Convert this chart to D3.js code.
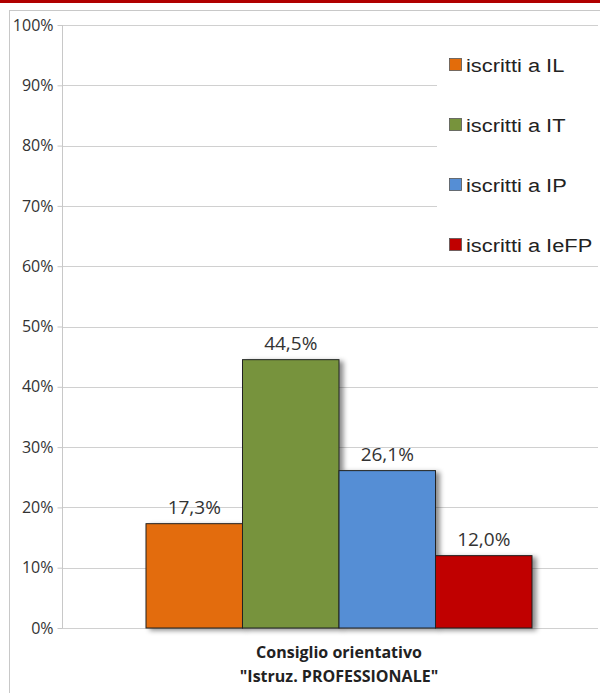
<!DOCTYPE html>
<html><head><meta charset="utf-8">
<script src="https://cdn.jsdelivr.net/npm/d3@7"></script>
<style>body{margin:0;background:#fff;}svg{display:block;}</style>
</head><body>
<script>
const categories = ["Consiglio orientativo", "\"Istruz. PROFESSIONALE\""];
const seriesNames = ["iscritti a IL", "iscritti a IT", "iscritti a IP", "iscritti a IeFP"];
const seriesValues = [17.3, 44.5, 26.1, 12.0];
const seriesLabels = ["17,3%", "44,5%", "26,1%", "12,0%"];
const seriesColors = ["#E36C0A", "#77933C", "#558ED5", "#C00000"];
const yTicks = [0,10,20,30,40,50,60,70,80,90,100];

(function(){
const W = 600, H = 693;
const svg = d3.select("body").append("svg").attr("width", W).attr("height", H);

const defs = svg.append("defs");
const f = defs.append("filter").attr("id","sh").attr("x","-20%").attr("y","-20%").attr("width","150%").attr("height","150%");
f.append("feDropShadow").attr("dx",4).attr("dy",2).attr("stdDeviation",2.5).attr("flood-color","#000").attr("flood-opacity",0.45);

// top red bar
svg.append("rect").attr("x",0).attr("y",0).attr("width",W).attr("height",3).attr("fill","#B00000");
// outer border
svg.append("rect").attr("x",9.5).attr("y",10.5).attr("width",W+10).attr("height",H+10)
  .attr("fill","none").attr("stroke","#c8c8c8").attr("stroke-width",1);

const pL = 62, pR = 598, pT = 25, pB = 628;
const y = d3.scaleLinear().domain([0,100]).range([pB, pT]);
const x = d3.scaleBand().domain(seriesNames).range([146, 532]).paddingInner(0);

// gridlines
svg.append("g").selectAll("line").data(yTicks).join("line")
  .attr("x1", pL).attr("x2", pR)
  .attr("y1", d=>Math.round(y(d))+0.5).attr("y2", d=>Math.round(y(d))+0.5)
  .attr("stroke","#d0d0d0").attr("stroke-width",1);

// y axis
const yAxis = d3.axisLeft(y).tickValues(yTicks).tickFormat(d=>d+"%").tickSize(5).tickPadding(4);
const ga = svg.append("g").attr("transform",`translate(${pL+0.5},0)`).call(yAxis);
ga.select(".domain").attr("stroke","#c8c8c8").attr("d",`M0,${pT}V${pB}`);
ga.selectAll(".tick line").attr("stroke","#c8c8c8").attr("x1",-5).attr("x2",0);
ga.selectAll(".tick text").attr("font-family","'Open Sans', sans-serif").attr("font-size",16).attr("fill","#333");

// bars
svg.append("g").selectAll("rect").data(seriesValues).join("rect")
  .attr("x",(d,i)=>x(seriesNames[i])).attr("width",x.bandwidth())
  .attr("y",d=>y(d)).attr("height",d=>pB-y(d))
  .attr("fill",(d,i)=>seriesColors[i]).attr("stroke","#222").attr("stroke-width",1)
  .attr("filter","url(#sh)");

// value labels
svg.append("g").selectAll("text").data(seriesValues).join("text")
  .attr("x",(d,i)=>x(seriesNames[i])+x.bandwidth()/2).attr("y",d=>y(d)-10)
  .attr("text-anchor","middle").attr("font-family","'Open Sans', sans-serif").attr("font-size",19)
  .attr("fill","#333").text((d,i)=>seriesLabels[i]);

// category label
svg.append("g").selectAll("text").data(categories).join("text")
  .attr("x",339).attr("y",(d,i)=>658+i*24).attr("text-anchor","middle")
  .attr("font-family","'Open Sans', sans-serif").attr("font-weight","bold").attr("font-size",16)
  .attr("fill","#222").text(d=>d);

// legend
const lg = svg.append("g");
lg.append("rect").attr("x",437).attr("y",40).attr("width",161).attr("height",222).attr("fill","#fff");
const li = lg.selectAll("g").data(seriesNames).join("g")
  .attr("transform",(d,i)=>`translate(449,${65+i*60})`);
li.append("rect").attr("x",0.5).attr("y",-6.5).attr("width",12).attr("height",12)
  .attr("fill",(d,i)=>seriesColors[i]).attr("stroke","#555").attr("stroke-width",0.8);
li.append("text").attr("transform","translate(17,7) scale(1.15,1)")
  .attr("font-family","'Liberation Sans', Arial, sans-serif")
  .attr("font-size",19).attr("fill","#222").text(d=>d);
})();
</script>
</body></html>
